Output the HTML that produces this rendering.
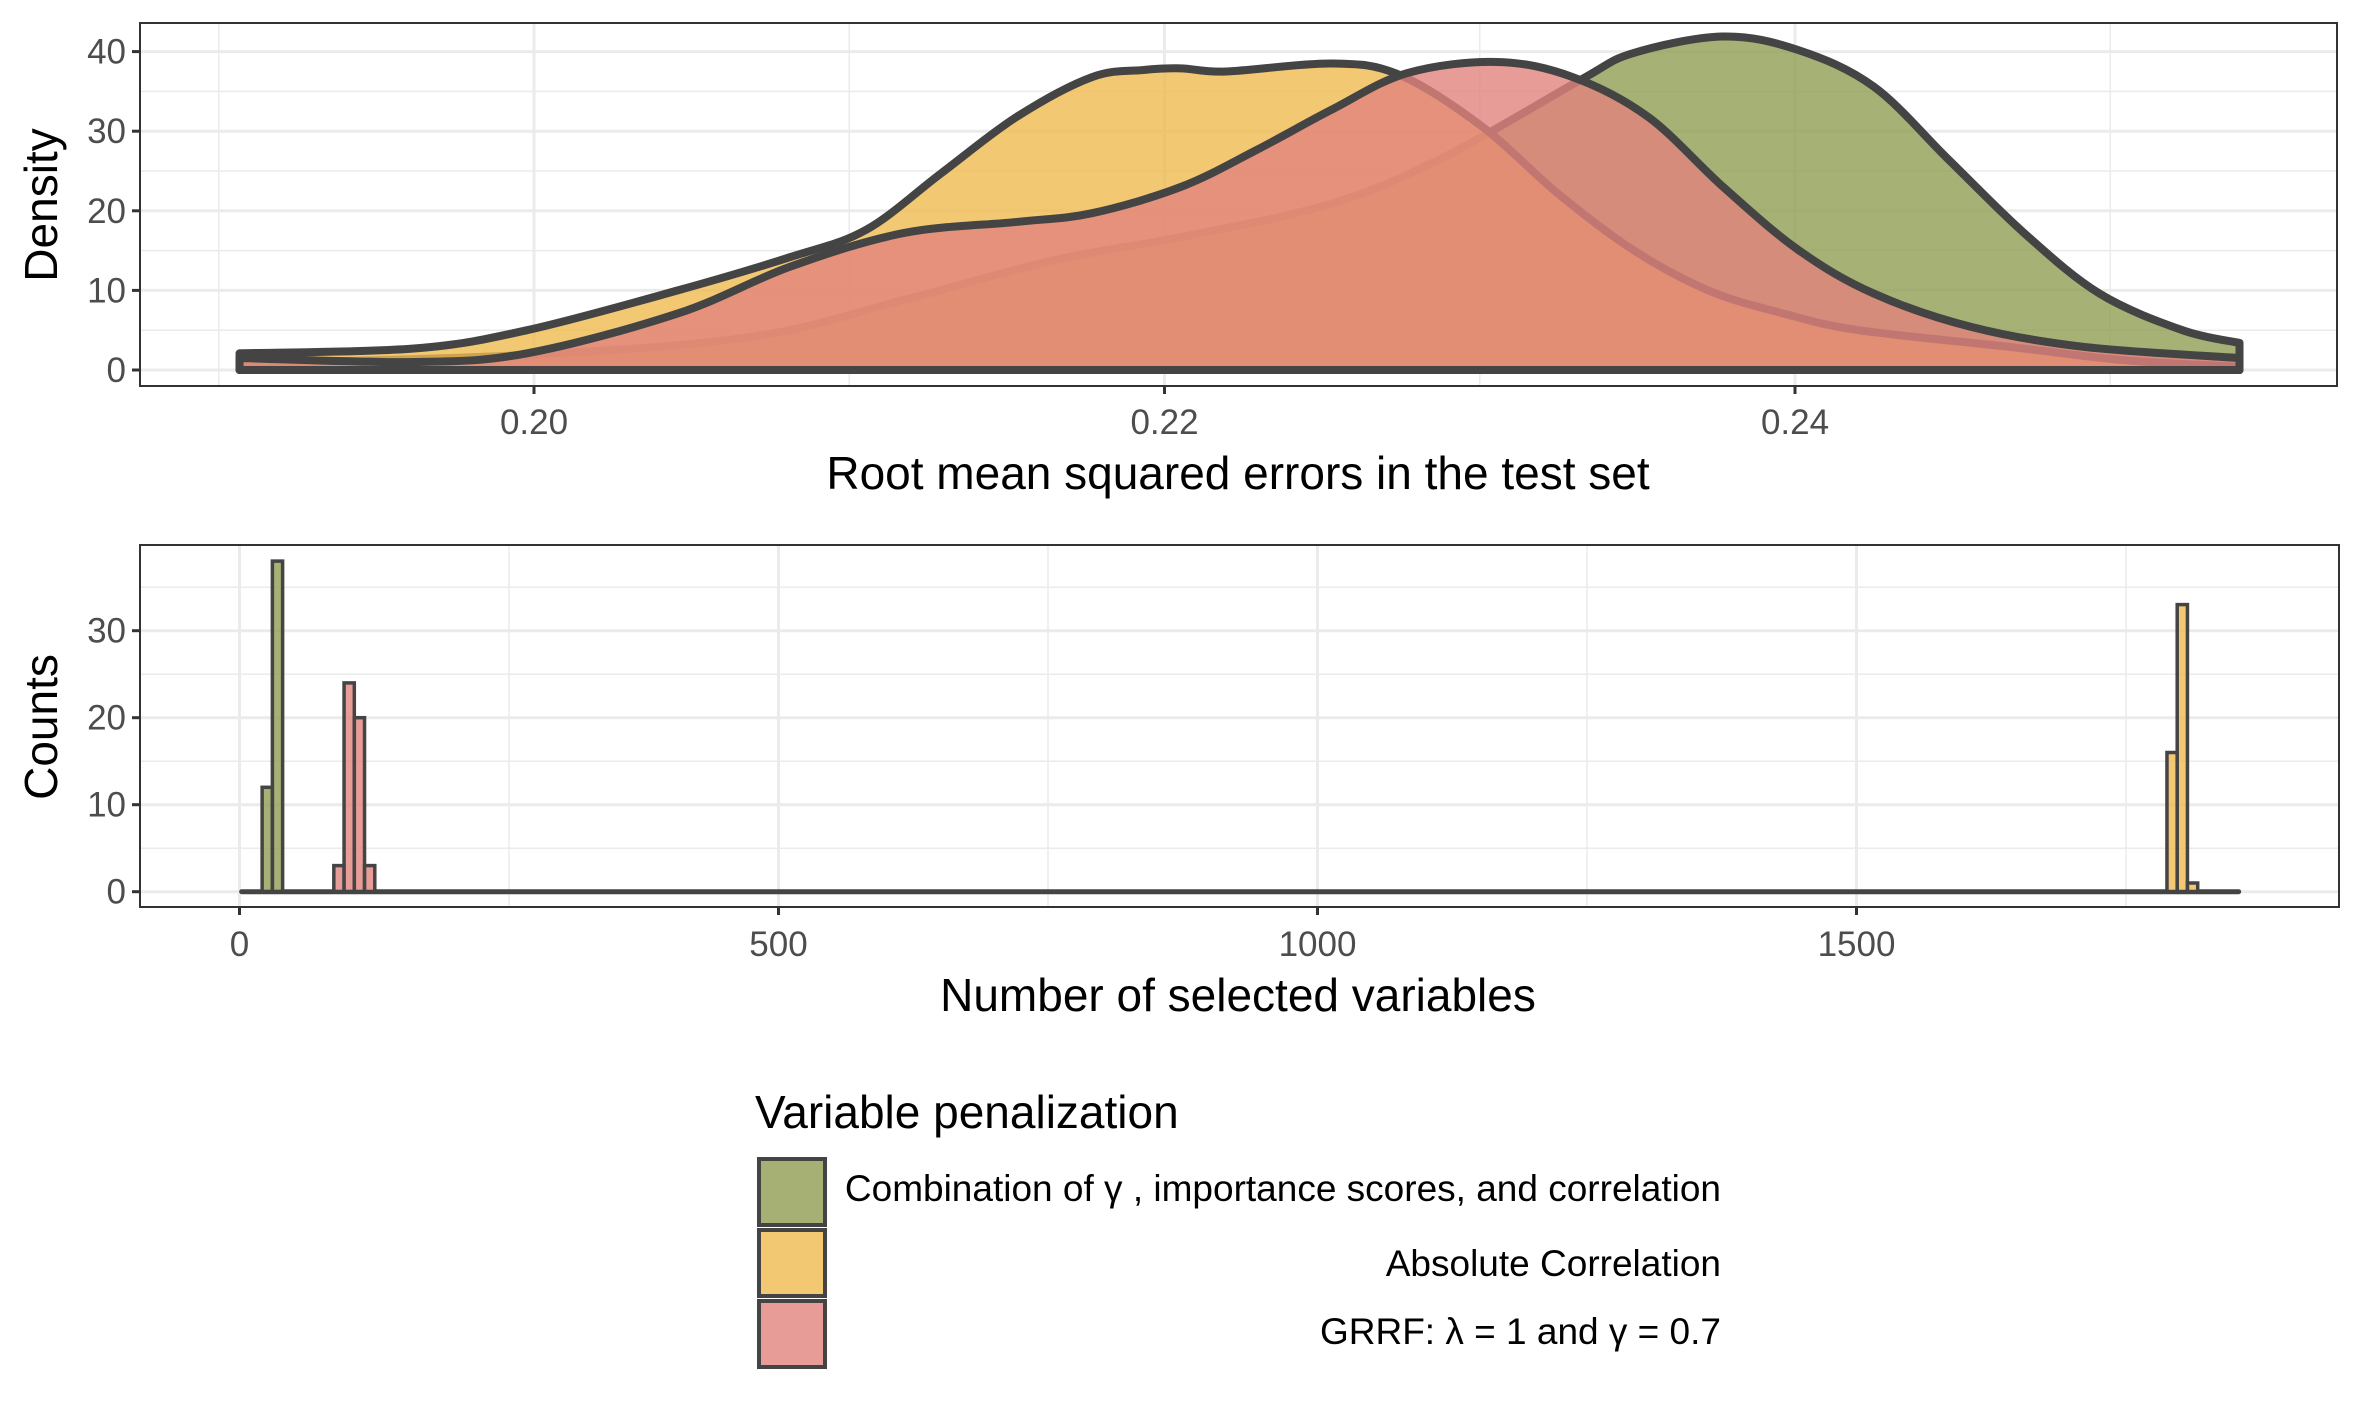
<!DOCTYPE html>
<html><head><meta charset="utf-8">
<style>
html,body{margin:0;padding:0;background:#fff;}
svg{display:block;font-family:"Liberation Sans",Arial,sans-serif;}
</style></head>
<body>
<svg id="chart" width="2362" height="1417" viewBox="0 0 2362 1417" xmlns="http://www.w3.org/2000/svg">
<g id="topPanel"></g>
<g id="botPanel"></g>
<g id="legend">
  <text x="755" y="1128" font-size="46" fill="#000">Variable penalization</text>
  <rect x="759" y="1159" width="66" height="66" fill="#a6b075" stroke="#444" stroke-width="4"/>
  <rect x="759" y="1230" width="66" height="66" fill="#f3c873" stroke="#444" stroke-width="4"/>
  <rect x="759" y="1301" width="66" height="66" fill="#e89c97" stroke="#444" stroke-width="4"/>
  <text x="1721" y="1201" font-size="37" text-anchor="end" fill="#000">Combination of  γ , importance scores, and correlation</text>
  <text x="1721" y="1276" font-size="37" text-anchor="end" fill="#000">Absolute Correlation</text>
  <text x="1721" y="1344" font-size="37" text-anchor="end" fill="#000">GRRF: λ = 1 and γ = 0.7</text>
</g>
</svg>
<script>
// ---- density data ----
const greenX = [0.19066,0.19978,0.20695,0.21172,0.2165,0.22052,0.2253,0.22889,0.23318,0.23486,0.23772,0.2401,0.2425,0.24488,0.24727,0.24966,0.25229,0.2541];
const greenY = [0.8,1.9,4.2,8.8,13.8,16.7,20.9,26.8,36.4,39.8,41.9,40.2,35.6,26.4,17.2,9.6,5.0,3.4];
const yellowX = [0.19066,0.19619,0.19978,0.20456,0.20814,0.21053,0.21291,0.21531,0.2177,0.21937,0.22052,0.22195,0.2253,0.22744,0.23007,0.23247,0.23486,0.23725,0.23963,0.24202,0.24682,0.25039,0.2541];
const yellowY = [2.1,2.7,5.0,10.0,14.2,17.6,24.7,31.8,36.8,37.7,37.9,37.5,38.5,37.1,30.6,22.2,15.1,10.0,7.1,5.0,2.9,1.25,0.4];
const pinkX = [0.19066,0.19619,0.19978,0.20456,0.20814,0.21172,0.21531,0.2177,0.22052,0.2229,0.2253,0.2277,0.23055,0.23295,0.23534,0.23772,0.2401,0.2425,0.2456,0.24918,0.2541];
const pinkY = [1.5,1.0,2.1,7.1,13.0,17.2,18.6,19.7,23.0,27.6,32.7,37.3,38.7,36.8,31.8,23.0,15.1,9.6,5.4,2.9,1.5];
const densTicksX = [0.20,0.22,0.24];
const densTickLabelsX = ["0.20","0.22","0.24"];
const densTicksY = [0,10,20,30,40];
// ---- histogram data ----
const binStart = 2, binWidth = 9.5, binCount = 195;
const greenBins = [2,3];   const greenCounts = [12,38];
const pinkBins = [9,10,11,12]; const pinkCounts = [3,24,20,3];
const yellowBins = [188,189,190]; const yellowCounts = [16,33,1];
const histTicksX = [0,500,1000,1500];
const histTicksY = [0,10,20,30];

const NS="http://www.w3.org/2000/svg";
function mk(parent,tag,attrs,text){const e=document.createElementNS(NS,tag);for(const k in attrs)e.setAttribute(k,attrs[k]);if(text!==undefined)e.textContent=text;parent.appendChild(e);return e;}

// ---- top panel ----
const T={l:140,r:2337,t:23,b:386};
const dx=v=>534+(v-0.20)*31525;
const dy=d=>370-d*7.96;
const topG=document.getElementById('topPanel');
let bg=mk(topG,'rect',{x:T.l,y:T.t,width:T.r-T.l,height:T.b-T.t,fill:'#fff'});


[0.19,0.21,0.23,0.25].forEach(v=>{let l=mk(topG,'line',{x1:dx(v),x2:dx(v),y1:T.t,y2:T.b,stroke:'#ebebeb','stroke-width':1.5});});
[5,15,25,35].forEach(v=>{let l=mk(topG,'line',{x1:T.l,x2:T.r,y1:dy(v),y2:dy(v),stroke:'#ebebeb','stroke-width':1.5});});
densTicksX.forEach(v=>{let l=mk(topG,'line',{x1:dx(v),x2:dx(v),y1:T.t,y2:T.b,stroke:'#ebebeb','stroke-width':3});});
densTicksY.forEach(v=>{let l=mk(topG,'line',{x1:T.l,x2:T.r,y1:dy(v),y2:dy(v),stroke:'#ebebeb','stroke-width':3});});

function smoothCurves(pts){
  let d='';
  for(let i=0;i<pts.length-1;i++){
    const p0=pts[Math.max(0,i-1)],p1=pts[i],p2=pts[i+1],p3=pts[Math.min(pts.length-1,i+2)];
    const c1x=p1[0]+(p2[0]-p0[0])/6,c1y=p1[1]+(p2[1]-p0[1])/6;
    const c2x=p2[0]-(p3[0]-p1[0])/6,c2y=p2[1]-(p3[1]-p1[1])/6;
    d+=` C${c1x},${c1y} ${c2x},${c2y} ${p2[0]},${p2[1]}`;
  }
  return d;
}
function density(xs,ys,fill,name){
  const pts=xs.map((v,i)=>[dx(v),dy(ys[i])]);
  const x0=dx(xs[0]),x1=dx(xs[xs.length-1]),y0=dy(0);
  const d=`M${x0},${y0} L${pts[0][0]},${pts[0][1]}`+smoothCurves(pts)+` L${x1},${y0} Z`;
  const p=mk(topG,'path',{d:d,fill:fill,'fill-opacity':0.8,stroke:'#444','stroke-width':8,'stroke-linejoin':'round'});
  
  
}
density(greenX,greenY,'rgb(144,157,82)','density-combination');
density(yellowX,yellowY,'rgb(240,186,80)','density-absolute-correlation');
density(pinkX,pinkY,'rgb(226,131,125)','density-grrf');

let br=mk(topG,'rect',{x:T.l,y:T.t,width:T.r-T.l,height:T.b-T.t,fill:'none',stroke:'#333','stroke-width':2});


densTicksX.forEach((v,i)=>{
  let t=mk(topG,'line',{x1:dx(v),x2:dx(v),y1:T.b,y2:T.b+8,stroke:'#333','stroke-width':3});
  
  let l=mk(topG,'text',{x:dx(v),y:434,'font-size':35,'text-anchor':'middle',fill:'#4d4d4d'},densTickLabelsX[i]);
  
});
densTicksY.forEach(v=>{
  let t=mk(topG,'line',{x1:T.l-8,x2:T.l,y1:dy(v),y2:dy(v),stroke:'#333','stroke-width':3});
  
  let l=mk(topG,'text',{x:T.l-14,y:dy(v)+12,'font-size':35,'text-anchor':'end',fill:'#4d4d4d'},String(v));
  
});
let xt=mk(topG,'text',{x:1238,y:489,'font-size':46,'text-anchor':'middle',fill:'#000'},'Root mean squared errors in the test set');

let yt=mk(topG,'text',{x:0,y:0,'font-size':46,'text-anchor':'middle',fill:'#000',transform:'translate(57,205) rotate(-90)'},'Density');


// ---- bottom panel ----
const B={l:140,r:2339,t:545,b:907};
const hx=v=>239.5+v*1.078;
const hy=c=>891.7-c*8.7;
const botG=document.getElementById('botPanel');
let bg2=mk(botG,'rect',{x:B.l,y:B.t,width:B.r-B.l,height:B.b-B.t,fill:'#fff'});


[250,750,1250,1750].forEach(v=>{let l=mk(botG,'line',{x1:hx(v),x2:hx(v),y1:B.t,y2:B.b,stroke:'#ebebeb','stroke-width':1.5});});
[5,15,25,35].forEach(v=>{let l=mk(botG,'line',{x1:B.l,x2:B.r,y1:hy(v),y2:hy(v),stroke:'#ebebeb','stroke-width':1.5});});
histTicksX.forEach(v=>{let l=mk(botG,'line',{x1:hx(v),x2:hx(v),y1:B.t,y2:B.b,stroke:'#ebebeb','stroke-width':3});});
histTicksY.forEach(v=>{let l=mk(botG,'line',{x1:B.l,x2:B.r,y1:hy(v),y2:hy(v),stroke:'#ebebeb','stroke-width':3});});

let base=mk(botG,'line',{x1:hx(binStart),x2:hx(binStart+binCount*binWidth),y1:hy(0),y2:hy(0),stroke:'#444','stroke-width':5,'stroke-linecap':'round'});


function bars(bins,counts,fill,name){
  bins.forEach((b,i)=>{
    const x0=hx(binStart+b*binWidth),x1=hx(binStart+(b+1)*binWidth);
    const r=mk(botG,'rect',{x:x0,y:hy(counts[i]),width:x1-x0,height:hy(0)-hy(counts[i]),fill:fill,'fill-opacity':0.8,stroke:'#444','stroke-width':3.5});
    
    
  });
}
bars(greenBins,greenCounts,'rgb(144,157,82)','bar-combination');
bars(pinkBins,pinkCounts,'rgb(226,131,125)','bar-grrf');
bars(yellowBins,yellowCounts,'rgb(240,186,80)','bar-absolute-correlation');

let br2=mk(botG,'rect',{x:B.l,y:B.t,width:B.r-B.l,height:B.b-B.t,fill:'none',stroke:'#333','stroke-width':2});


histTicksX.forEach(v=>{
  let t=mk(botG,'line',{x1:hx(v),x2:hx(v),y1:B.b,y2:B.b+8,stroke:'#333','stroke-width':3});
  
  let l=mk(botG,'text',{x:hx(v),y:956,'font-size':35,'text-anchor':'middle',fill:'#4d4d4d'},String(v));
  
});
histTicksY.forEach(v=>{
  let t=mk(botG,'line',{x1:B.l-8,x2:B.l,y1:hy(v),y2:hy(v),stroke:'#333','stroke-width':3});
  
  let l=mk(botG,'text',{x:B.l-14,y:hy(v)+12,'font-size':35,'text-anchor':'end',fill:'#4d4d4d'},String(v));
  
});
let xt2=mk(botG,'text',{x:1238,y:1011,'font-size':46,'text-anchor':'middle',fill:'#000'},'Number of selected variables');

let yt2=mk(botG,'text',{x:0,y:0,'font-size':46,'text-anchor':'middle',fill:'#000',transform:'translate(57,727) rotate(-90)'},'Counts');

</script>
</body></html>
